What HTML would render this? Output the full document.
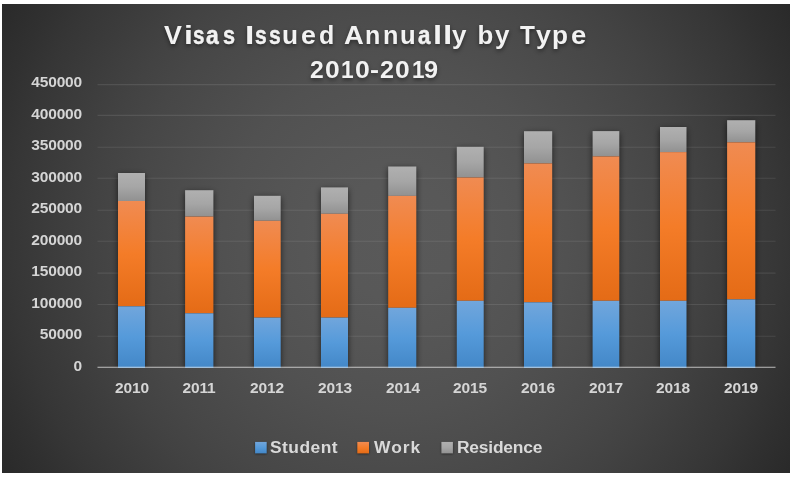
<!DOCTYPE html>
<html><head><meta charset="utf-8"><title>Visas Issued Annually by Type</title>
<style>
html,body{margin:0;padding:0;background:#fff;}
body{width:795px;height:477px;position:relative;overflow:hidden;font-family:"Liberation Sans",sans-serif;font-weight:bold;}
#chart{position:absolute;left:2px;top:4px;width:788px;height:469px;box-sizing:border-box;
 background:radial-gradient(circle farthest-corner at 50% 50%, rgb(89,89,89) 0.00%, rgb(88,88,88) 13.09%, rgb(85,85,85) 24.66%, rgb(81,81,81) 37.54%, rgb(75.5,75.5,75.5) 49.32%, rgb(71,71,71) 58.49%, rgb(66.5,66.5,66.5) 66.13%, rgb(60,60,60) 75.29%, rgb(54,54,54) 84.02%, rgb(48.5,48.5,48.5) 90.57%, rgb(44.5,44.5,44.5) 96.03%, rgb(41.5,41.5,41.5) 100.00%);}
svg{position:absolute;left:0;top:0;}
.yl,.xl,.lg{will-change:transform;}
.yl{position:absolute;left:0;width:82px;text-align:right;font-size:15.5px;line-height:16px;color:#d5d5d5;letter-spacing:-0.18px;white-space:nowrap;}
.xl{position:absolute;width:80px;text-align:center;font-size:15.5px;line-height:16px;color:#d5d5d5;letter-spacing:-0.18px;white-space:nowrap;}
#ttl{position:absolute;left:0;top:0;width:795px;height:100px;will-change:transform;}
.t{position:absolute;color:#f2f2f2;white-space:nowrap;text-shadow:0 2px 4px rgba(0,0,0,0.45);transform-origin:0 0;}
.lg{position:absolute;font-size:17.4px;line-height:20px;color:#d9d9d9;white-space:nowrap;}
.sq{position:absolute;width:11px;height:11px;top:442px;}
</style></head><body>
<div id="chart"></div>
<svg width="795" height="477" viewBox="0 0 795 477">
<defs>
<linearGradient id="gb" x1="0" y1="0" x2="0" y2="1"><stop offset="0" stop-color="#71a6dc"/><stop offset="0.5" stop-color="#559ada"/><stop offset="1" stop-color="#4387c7"/></linearGradient>
<linearGradient id="go" x1="0" y1="0" x2="0" y2="1"><stop offset="0" stop-color="#f08b52"/><stop offset="0.5" stop-color="#f47c28"/><stop offset="1" stop-color="#e46b16"/></linearGradient>
<linearGradient id="gs" x1="0" y1="0" x2="0" y2="1"><stop offset="0" stop-color="#b0b0b0"/><stop offset="0.5" stop-color="#a6a6a6"/><stop offset="1" stop-color="#919191"/></linearGradient>
<filter id="sh" x="-60%" y="-10%" width="220%" height="120%"><feGaussianBlur stdDeviation="3"/></filter>
<filter id="sh2" x="-100%" y="-100%" width="300%" height="300%"><feGaussianBlur stdDeviation="1.3"/></filter>
<clipPath id="cp"><rect x="90" y="60" width="700" height="308"/></clipPath>
</defs>

<g stroke="#f2f2f2" stroke-opacity="0.10" stroke-width="1.1">
<line x1="97.5" x2="775.5" y1="84.6" y2="84.6"/>
<line x1="97.5" x2="775.5" y1="115.4" y2="115.4"/>
<line x1="97.5" x2="775.5" y1="147.3" y2="147.3"/>
<line x1="97.5" x2="775.5" y1="178.3" y2="178.3"/>
<line x1="97.5" x2="775.5" y1="210.3" y2="210.3"/>
<line x1="97.5" x2="775.5" y1="241.3" y2="241.3"/>
<line x1="97.5" x2="775.5" y1="273.1" y2="273.1"/>
<line x1="97.5" x2="775.5" y1="304.5" y2="304.5"/>
<line x1="97.5" x2="775.5" y1="336.3" y2="336.3"/>
</g>
<g clip-path="url(#cp)"><g filter="url(#sh)" fill="#000" fill-opacity="0.63">
<rect x="118.0" y="175.0" width="27.0" height="195.0"/>
<rect x="185.1" y="192.2" width="28.3" height="177.8"/>
<rect x="254.0" y="197.8" width="26.7" height="172.2"/>
<rect x="321.0" y="189.4" width="27.0" height="180.6"/>
<rect x="388.2" y="168.5" width="28.1" height="201.5"/>
<rect x="456.8" y="148.8" width="26.9" height="221.2"/>
<rect x="524.0" y="133.2" width="28.2" height="236.8"/>
<rect x="592.6" y="133.1" width="26.7" height="236.9"/>
<rect x="660.0" y="129.0" width="26.5" height="241.0"/>
<rect x="727.1" y="122.2" width="28.2" height="247.8"/>
</g></g>
<rect x="118.0" y="173.0" width="27.0" height="28.0" fill="url(#gs)"/><rect x="118.0" y="201.0" width="27.0" height="105.3" fill="url(#go)"/><rect x="118.0" y="306.3" width="27.0" height="61.7" fill="url(#gb)"/>
<rect x="185.1" y="190.2" width="28.3" height="26.4" fill="url(#gs)"/><rect x="185.1" y="216.6" width="28.3" height="96.7" fill="url(#go)"/><rect x="185.1" y="313.3" width="28.3" height="54.7" fill="url(#gb)"/>
<rect x="254.0" y="195.8" width="26.7" height="25.0" fill="url(#gs)"/><rect x="254.0" y="220.8" width="26.7" height="96.8" fill="url(#go)"/><rect x="254.0" y="317.6" width="26.7" height="50.4" fill="url(#gb)"/>
<rect x="321.0" y="187.4" width="27.0" height="26.4" fill="url(#gs)"/><rect x="321.0" y="213.8" width="27.0" height="103.8" fill="url(#go)"/><rect x="321.0" y="317.6" width="27.0" height="50.4" fill="url(#gb)"/>
<rect x="388.2" y="166.5" width="28.1" height="29.4" fill="url(#gs)"/><rect x="388.2" y="195.9" width="28.1" height="111.9" fill="url(#go)"/><rect x="388.2" y="307.8" width="28.1" height="60.2" fill="url(#gb)"/>
<rect x="456.8" y="146.8" width="26.9" height="30.7" fill="url(#gs)"/><rect x="456.8" y="177.5" width="26.9" height="123.3" fill="url(#go)"/><rect x="456.8" y="300.8" width="26.9" height="67.2" fill="url(#gb)"/>
<rect x="524.0" y="131.2" width="28.2" height="32.2" fill="url(#gs)"/><rect x="524.0" y="163.4" width="28.2" height="138.9" fill="url(#go)"/><rect x="524.0" y="302.3" width="28.2" height="65.7" fill="url(#gb)"/>
<rect x="592.6" y="131.1" width="26.7" height="25.3" fill="url(#gs)"/><rect x="592.6" y="156.4" width="26.7" height="144.4" fill="url(#go)"/><rect x="592.6" y="300.8" width="26.7" height="67.2" fill="url(#gb)"/>
<rect x="660.0" y="127.0" width="26.5" height="25.1" fill="url(#gs)"/><rect x="660.0" y="152.1" width="26.5" height="148.7" fill="url(#go)"/><rect x="660.0" y="300.8" width="26.5" height="67.2" fill="url(#gb)"/>
<rect x="727.1" y="120.2" width="28.2" height="22.1" fill="url(#gs)"/><rect x="727.1" y="142.3" width="28.2" height="157.1" fill="url(#go)"/><rect x="727.1" y="299.4" width="28.2" height="68.6" fill="url(#gb)"/>
<rect x="97.5" y="366.67" width="678.0" height="1.33" fill="#f2f2f2" fill-opacity="0.54"/>
<g filter="url(#sh2)" fill="#000" fill-opacity="0.5"><rect x="255.1" y="442.6" width="11.6" height="11.5"/><rect x="357.3" y="442.6" width="11.7" height="11.5"/><rect x="441.4" y="442.6" width="11.5" height="11.5"/></g>
<rect x="255.1" y="441.9" width="11.6" height="11.5" fill="url(#gb)"/><rect x="357.3" y="441.9" width="11.7" height="11.5" fill="url(#go)"/><rect x="441.4" y="441.9" width="11.5" height="11.5" fill="url(#gs)"/>
</svg>
<div class="yl" style="top:74.0px">450000</div>
<div class="yl" style="top:106.0px">400000</div>
<div class="yl" style="top:137.0px">350000</div>
<div class="yl" style="top:169.0px">300000</div>
<div class="yl" style="top:200.0px">250000</div>
<div class="yl" style="top:232.0px">200000</div>
<div class="yl" style="top:263.0px">150000</div>
<div class="yl" style="top:295.0px">100000</div>
<div class="yl" style="top:326.0px">50000</div>
<div class="yl" style="top:358.0px">0</div>
<div class="xl" style="left:91.6px;top:380px">2010</div>
<div class="xl" style="left:159.3px;top:380px">2011</div>
<div class="xl" style="left:227.0px;top:380px">2012</div>
<div class="xl" style="left:294.8px;top:380px">2013</div>
<div class="xl" style="left:362.5px;top:380px">2014</div>
<div class="xl" style="left:430.2px;top:380px">2015</div>
<div class="xl" style="left:497.9px;top:380px">2016</div>
<div class="xl" style="left:565.6px;top:380px">2017</div>
<div class="xl" style="left:633.4px;top:380px">2018</div>
<div class="xl" style="left:701.1px;top:380px">2019</div>
<div id="ttl">
<span class="t" style="left:163.94px;top:19.3px;font-size:25.8px;line-height:32px;transform:scaleX(1.039)">V</span>
<span class="t" style="left:183.53px;top:19.3px;font-size:25.8px;line-height:32px;transform:scaleX(1.241)">i</span>
<span class="t" style="left:193.45px;top:19.3px;font-size:25.8px;line-height:32px;transform:scaleX(0.800);-webkit-text-stroke:0.5px #f2f2f2">s</span>
<span class="t" style="left:206.33px;top:19.3px;font-size:25.8px;line-height:32px;transform:scaleX(0.887);-webkit-text-stroke:0.5px #f2f2f2">a</span>
<span class="t" style="left:222.86px;top:19.3px;font-size:25.8px;line-height:32px;transform:scaleX(0.840);-webkit-text-stroke:0.5px #f2f2f2">s</span>
<span class="t" style="left:245.09px;top:19.3px;font-size:25.8px;line-height:32px;transform:scaleX(1.300)">I</span>
<span class="t" style="left:254.99px;top:19.3px;font-size:25.8px;line-height:32px;transform:scaleX(0.816);-webkit-text-stroke:0.5px #f2f2f2">s</span>
<span class="t" style="left:269.19px;top:19.3px;font-size:25.8px;line-height:32px;transform:scaleX(0.816);-webkit-text-stroke:0.5px #f2f2f2">s</span>
<span class="t" style="left:282.35px;top:19.3px;font-size:25.8px;line-height:32px;transform:scaleX(1.018)">u</span>
<span class="t" style="left:301.46px;top:19.3px;font-size:25.8px;line-height:32px;transform:scaleX(1.040)">e</span>
<span class="t" style="left:318.93px;top:19.3px;font-size:25.8px;line-height:32px;transform:scaleX(0.969)">d</span>
<span class="t" style="left:344.34px;top:19.3px;font-size:25.8px;line-height:32px;transform:scaleX(1.061)">A</span>
<span class="t" style="left:364.70px;top:19.3px;font-size:25.8px;line-height:32px;transform:scaleX(0.970)">n</span>
<span class="t" style="left:382.59px;top:19.3px;font-size:25.8px;line-height:32px;transform:scaleX(0.978)">n</span>
<span class="t" style="left:400.28px;top:19.3px;font-size:25.8px;line-height:32px;transform:scaleX(0.994)">u</span>
<span class="t" style="left:417.95px;top:19.3px;font-size:25.8px;line-height:32px;transform:scaleX(0.865);-webkit-text-stroke:0.5px #f2f2f2">a</span>
<span class="t" style="left:433.48px;top:19.3px;font-size:25.8px;line-height:32px;transform:scaleX(1.269)">l</span>
<span class="t" style="left:443.17px;top:19.3px;font-size:25.8px;line-height:32px;transform:scaleX(1.300)">l</span>
<span class="t" style="left:452.15px;top:19.3px;font-size:25.8px;line-height:32px;transform:scaleX(1.007)">y</span>
<span class="t" style="left:477.55px;top:19.3px;font-size:25.8px;line-height:32px;transform:scaleX(1.000)">b</span>
<span class="t" style="left:495.15px;top:19.3px;font-size:25.8px;line-height:32px;transform:scaleX(1.007)">y</span>
<span class="t" style="left:519.86px;top:19.3px;font-size:25.8px;line-height:32px;transform:scaleX(0.944)">T</span>
<span class="t" style="left:535.54px;top:19.3px;font-size:25.8px;line-height:32px;transform:scaleX(1.036)">y</span>
<span class="t" style="left:551.62px;top:19.3px;font-size:25.8px;line-height:32px;transform:scaleX(1.015)">p</span>
<span class="t" style="left:570.84px;top:19.3px;font-size:25.8px;line-height:32px;transform:scaleX(1.064)">e</span>
<span class="t" style="left:310.11px;top:54.4px;font-size:24.4px;line-height:32px;transform:scaleX(1.013)">2</span>
<span class="t" style="left:324.52px;top:54.4px;font-size:24.4px;line-height:32px;transform:scaleX(1.084)">0</span>
<span class="t" style="left:341.30px;top:54.4px;font-size:24.4px;line-height:32px;transform:scaleX(0.932)">1</span>
<span class="t" style="left:354.51px;top:54.4px;font-size:24.4px;line-height:32px;transform:scaleX(1.092)">0</span>
<span class="t" style="left:369.89px;top:54.4px;font-size:24.4px;line-height:32px;transform:scaleX(1.110)">-</span>
<span class="t" style="left:380.00px;top:54.4px;font-size:24.4px;line-height:32px;transform:scaleX(1.030)">2</span>
<span class="t" style="left:395.12px;top:54.4px;font-size:24.4px;line-height:32px;transform:scaleX(1.084)">0</span>
<span class="t" style="left:411.72px;top:54.4px;font-size:24.4px;line-height:32px;transform:scaleX(0.923)">1</span>
<span class="t" style="left:424.49px;top:54.4px;font-size:24.4px;line-height:32px;transform:scaleX(1.038)">9</span>
</div>
<div class="lg" style="left:270.2px;top:436.6px;letter-spacing:0.47px">Student</div>
<div class="lg" style="left:374.3px;top:436.6px;letter-spacing:1.03px">Work</div>
<div class="lg" style="left:457.1px;top:436.6px;letter-spacing:-0.2px">Residence</div>
</body></html>
